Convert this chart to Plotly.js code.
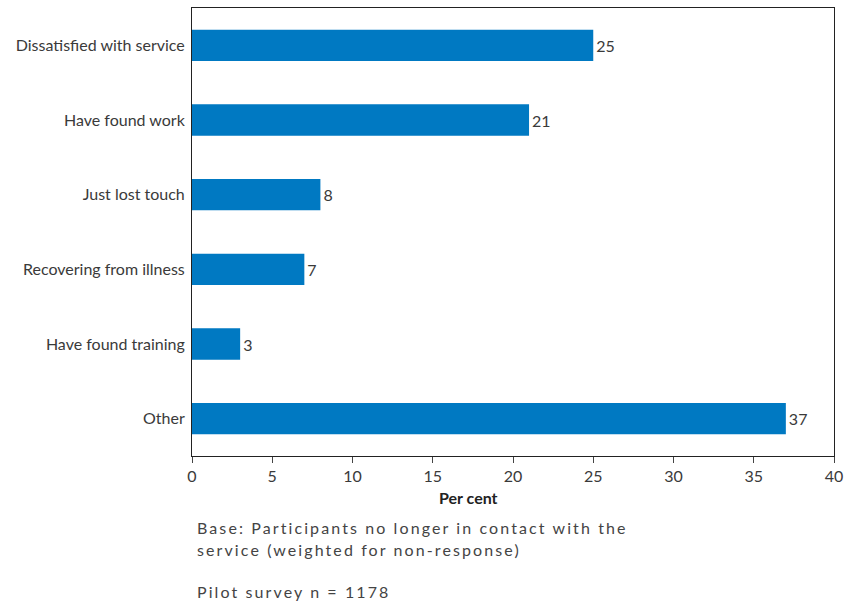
<!DOCTYPE html>
<html><head><meta charset="utf-8">
<script src="https://cdn.plot.ly/plotly-3.0.1.min.js"></script>
<style>body{margin:0;background:#fff}</style>
</head><body>
<div id="chart" style="width:857px;height:603px"></div>
<script>
const categories = ["Dissatisfied with service","Have found work","Just lost touch","Recovering from illness","Have found training","Other"];
const values = [25, 21, 8, 7, 3, 37];
const xTicks = [0,5,10,15,20,25,30,35,40];

const W = 857, H = 603, L = 192, R = 23, T = 8, B = 147;
const pw = W - L - R, ph = H - T - B;
function px(x){ return (x - L) / pw; }
function py(y){ return (H - B - y) / ph; }

const font = "Lato, 'Open Sans', sans-serif";
const data = [{
  type: "bar", orientation: "h",
  y: categories, x: values,
  text: values.map(String), textposition: "outside", cliponaxis: false,
  textfont: {family: font, size: 16, color: "#3a3a3a"},
  marker: {color: "#0079c2"},
  width: 0.42, hoverinfo: "none"
}];
const layout = {
  width: W, height: H,
  margin: {l: L, r: R, t: T, b: B, pad: 0},
  paper_bgcolor: "#fff", plot_bgcolor: "#fff",
  showlegend: false,
  font: {family: font, size: 16, color: "#3a3a3a"},
  xaxis: {range: [0, 40], tickvals: xTicks, ticktext: xTicks.map(String),
    ticks: "outside", ticklen: 6, tickcolor: "#444", showgrid: false, zeroline: false,
    showline: true, linecolor: "#222", linewidth: 1, mirror: true,
    tickfont: {family: font, size: 16, color: "#3a3a3a"}},
  yaxis: {autorange: "reversed", categoryorder: "array", categoryarray: categories,
    ticks: "", showgrid: false, zeroline: false, showline: true, linecolor: "#222", linewidth: 1, mirror: true,
    ticklabelstandoff: 3,
    tickfont: {family: font, size: 16, color: "#3a3a3a"}},
  annotations: [
    {xref: "paper", yref: "paper", x: px(468), y: py(497), text: "<b>Per cent</b>", showarrow: false,
     xanchor: "center", yanchor: "middle", font: {family: font, size: 16, color: "#222"}},
    {xref: "paper", yref: "paper", x: px(195), y: py(527), text: '<span style="letter-spacing:2.1px">Base: Participants no longer in contact with the</span>', showarrow: false,
     xanchor: "left", yanchor: "middle", font: {family: font, size: 16, color: "#444"}},
    {xref: "paper", yref: "paper", x: px(195), y: py(549), text: '<span style="letter-spacing:2.1px">service (weighted for non-response)</span>', showarrow: false,
     xanchor: "left", yanchor: "middle", font: {family: font, size: 16, color: "#444"}},
    {xref: "paper", yref: "paper", x: px(195), y: py(591), text: '<span style="letter-spacing:2.1px">Pilot survey n = 1178</span>', showarrow: false,
     xanchor: "left", yanchor: "middle", font: {family: font, size: 16, color: "#444"}}
  ]
};
Plotly.newPlot("chart", data, layout, {staticPlot: true, displayModeBar: false});
</script>
</body></html>
